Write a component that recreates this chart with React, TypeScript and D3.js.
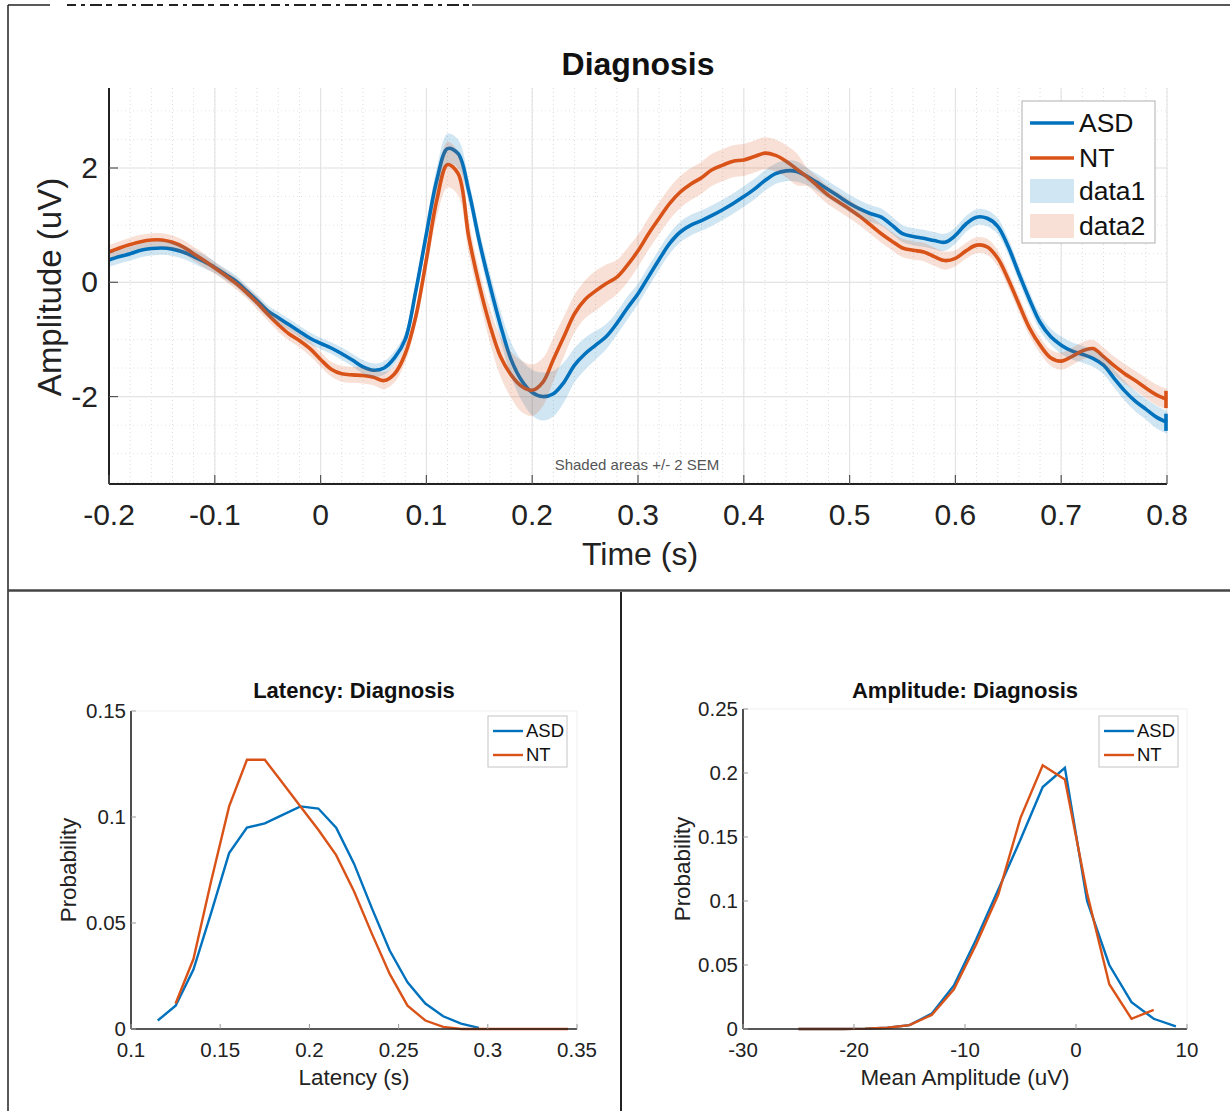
import React, { useEffect, useRef } from 'react';
import * as d3 from 'd3';

// ERP time grid, seconds (-0.2 .. 0.8, 10 ms steps)
const timeSec: number[] = d3.range(0, 101).map(i => Math.round((-0.2 + i * 0.01) * 1000) / 1000);

const asdErp = [
  0.39, 0.45, 0.50, 0.56, 0.59, 0.60, 0.58, 0.53, 0.45, 0.36,
  0.26, 0.14, 0.02, -0.15, -0.32, -0.50, -0.62, -0.74, -0.86, -0.98,
  -1.07, -1.15, -1.25, -1.36, -1.48, -1.54, -1.50, -1.32, -1.00, -0.15,
  0.85, 1.80, 2.34, 2.25, 1.60, 0.72, -0.05, -0.75, -1.35, -1.72,
  -1.93, -2.00, -1.95, -1.75, -1.45, -1.25, -1.10, -0.95, -0.72, -0.45,
  -0.20, 0.10, 0.40, 0.68, 0.88, 1.00, 1.08, 1.17, 1.27, 1.38,
  1.50, 1.63, 1.78, 1.90, 1.95, 1.94, 1.85, 1.74, 1.62, 1.50,
  1.38, 1.28, 1.20, 1.14, 1.00, 0.85, 0.80, 0.77, 0.73, 0.70,
  0.82, 1.02, 1.14, 1.12, 0.98, 0.62, 0.15, -0.30, -0.70, -0.95,
  -1.10, -1.20, -1.26, -1.33, -1.45, -1.68, -1.90, -2.08, -2.22, -2.36,
  -2.45,
];

const ntErp = [
  0.53, 0.60, 0.66, 0.71, 0.74, 0.74, 0.70, 0.62, 0.50, 0.38,
  0.25, 0.12, -0.02, -0.18, -0.36, -0.56, -0.74, -0.90, -1.02, -1.16,
  -1.35, -1.52, -1.60, -1.62, -1.63, -1.66, -1.72, -1.60, -1.25, -0.60,
  0.40, 1.45, 2.06, 1.90, 0.80, -0.05, -0.75, -1.30, -1.62, -1.82,
  -1.89, -1.75, -1.35, -0.95, -0.55, -0.30, -0.15, -0.02, 0.09, 0.30,
  0.55, 0.85, 1.12, 1.38, 1.58, 1.72, 1.83, 1.97, 2.05, 2.12,
  2.14, 2.20, 2.26, 2.22, 2.12, 1.98, 1.84, 1.68, 1.52, 1.40,
  1.28, 1.15, 1.00, 0.85, 0.72, 0.60, 0.56, 0.53, 0.45, 0.38,
  0.42, 0.55, 0.65, 0.62, 0.42, 0.05, -0.38, -0.80, -1.10, -1.32,
  -1.38, -1.30, -1.20, -1.16, -1.30, -1.46, -1.60, -1.72, -1.85, -1.97,
  -2.05,
];

// +/- 2 SEM half widths
const asdSem = [
  0.12, 0.12, 0.12, 0.12, 0.12, 0.12, 0.12, 0.12, 0.12, 0.12,
  0.10, 0.10, 0.10, 0.10, 0.10, 0.10, 0.10, 0.10, 0.10, 0.10,
  0.10, 0.10, 0.11, 0.11, 0.12, 0.12, 0.12, 0.12, 0.12, 0.12,
  0.18, 0.22, 0.26, 0.25, 0.20, 0.20, 0.22, 0.25, 0.30, 0.35,
  0.40, 0.42, 0.40, 0.35, 0.30, 0.28, 0.25, 0.22, 0.20, 0.20,
  0.18, 0.18, 0.18, 0.18, 0.18, 0.18, 0.18, 0.18, 0.18, 0.18,
  0.18, 0.18, 0.18, 0.18, 0.18, 0.18, 0.15, 0.15, 0.15, 0.15,
  0.15, 0.15, 0.15, 0.15, 0.15, 0.15, 0.15, 0.15, 0.15, 0.15,
  0.14, 0.14, 0.14, 0.14, 0.14, 0.14, 0.14, 0.14, 0.14, 0.14,
  0.15, 0.15, 0.15, 0.15, 0.16, 0.16, 0.17, 0.18, 0.18, 0.20,
  0.20,
];

const ntSem = [
  0.12, 0.12, 0.12, 0.12, 0.12, 0.12, 0.12, 0.12, 0.12, 0.12,
  0.10, 0.10, 0.10, 0.10, 0.11, 0.11, 0.12, 0.12, 0.12, 0.13,
  0.13, 0.13, 0.14, 0.14, 0.14, 0.14, 0.15, 0.15, 0.15, 0.15,
  0.20, 0.30, 0.40, 0.38, 0.30, 0.25, 0.30, 0.35, 0.40, 0.45,
  0.45, 0.42, 0.38, 0.35, 0.33, 0.33, 0.35, 0.33, 0.30, 0.30,
  0.28, 0.28, 0.28, 0.28, 0.28, 0.28, 0.28, 0.28, 0.28, 0.28,
  0.28, 0.28, 0.28, 0.28, 0.28, 0.28, 0.16, 0.16, 0.16, 0.16,
  0.16, 0.16, 0.16, 0.16, 0.16, 0.16, 0.16, 0.16, 0.16, 0.16,
  0.14, 0.14, 0.14, 0.14, 0.14, 0.14, 0.14, 0.14, 0.14, 0.14,
  0.15, 0.15, 0.15, 0.15, 0.16, 0.16, 0.17, 0.17, 0.18, 0.18,
  0.18,
];

// end-of-epoch filter hooks at 0.8 s (min, max)
const asdEndHook = [-2.6, -2.3];
const ntEndHook = [-2.2, -1.9];

// latency histograms
const latencyBins = [
  0.115, 0.125, 0.135, 0.145, 0.155, 0.165, 0.175, 0.185, 0.195, 0.205, 0.215, 0.225,
  0.235, 0.245, 0.255, 0.265, 0.275, 0.285, 0.295, 0.305, 0.315, 0.325, 0.335, 0.345,
];
const asdLatency = [
  0.004, 0.011, 0.028, 0.055, 0.083, 0.095, 0.097, 0.101, 0.105, 0.104, 0.095, 0.078,
  0.057, 0.037, 0.022, 0.012, 0.006, 0.0025, 0.0005, null, null, null, null, null,
];
const ntLatency = [
  null, 0.012, 0.033, 0.070, 0.105, 0.127, 0.127, 0.116, 0.105, 0.094, 0.082, 0.065,
  0.045, 0.026, 0.011, 0.004, 0.001, 0, 0, 0, 0, 0, 0, 0,
];

// mean amplitude histograms
const amplitudeBins = [-25, -23, -21, -19, -17, -15, -13, -11, -9, -7, -5, -3, -1, 1, 3, 5, 7, 9];
const asdAmplitude = [
  0, 0, 0, 0.0003, 0.001, 0.003, 0.012, 0.034, 0.070, 0.109, 0.148, 0.189, 0.204, 0.100, 0.050, 0.021, 0.008, 0.002,
];
const ntAmplitude = [
  0, 0, 0, 0.0003, 0.001, 0.003, 0.011, 0.031, 0.066, 0.105, 0.165, 0.206, 0.195, 0.106, 0.035, 0.008, 0.015, null,
];

const topXTicks = [-0.2, -0.1, 0, 0.1, 0.2, 0.3, 0.4, 0.5, 0.6, 0.7, 0.8];
const topYTicks = [-2, 0, 2];
const latXTicks = [0.1, 0.15, 0.2, 0.25, 0.3, 0.35];
const latYTicks = [0, 0.05, 0.1, 0.15];
const ampXTicks = [-30, -20, -10, 0, 10];
const ampYTicks = [0, 0.05, 0.1, 0.15, 0.2, 0.25];

const BLUE = '#0072BD';
const ORANGE = '#D95319';
const FONT = '"Liberation Sans", Arial, Helvetica, sans-serif';

type Pt = { x: number; y: number | null };

const App = () => {
  const ref = useRef<SVGSVGElement>(null);

  useEffect(() => {
    const svg = d3.select(ref.current);
    svg.selectAll('*').remove();
    svg.style('font-family', FONT);

    // figure frame
    const frame = svg.append('g').attr('stroke', '#222').attr('fill', 'none');
    frame.append('line').attr('x1', 8).attr('x2', 8).attr('y1', 5).attr('y2', 1111).attr('stroke-width', 1.5);
    frame.append('line').attr('x1', 8).attr('x2', 50).attr('y1', 5).attr('y2', 5).attr('stroke-width', 1.5);
    frame.append('line').attr('x1', 67).attr('x2', 472).attr('y1', 5).attr('y2', 5)
      .attr('stroke-width', 2).attr('stroke-dasharray', '9,5,4,5,12,4,6,6');
    frame.append('line').attr('x1', 472).attr('x2', 1230).attr('y1', 5).attr('y2', 5).attr('stroke-width', 1.5);
    frame.append('line').attr('x1', 8).attr('x2', 1230).attr('y1', 590.5).attr('y2', 590.5).attr('stroke-width', 2.5).attr('stroke', '#444');
    frame.append('line').attr('x1', 621).attr('x2', 621).attr('y1', 592).attr('y2', 1111).attr('stroke-width', 2);

    // ---------- top ERP chart ----------
    const x = d3.scaleLinear().domain([-0.2, 0.8]).range([109, 1167]);
    const y = d3.scaleLinear().domain([-3.53, 3.4]).range([484, 88]);
    const top = svg.append('g');

    // minor grid
    const minorX = d3.range(-0.2, 0.8001, 0.02);
    top.append('g').selectAll('line').data(minorX).join('line')
      .attr('x1', d => x(d)).attr('x2', d => x(d)).attr('y1', 88).attr('y2', 484)
      .attr('stroke', '#dcdcdc').attr('stroke-width', 1).attr('stroke-dasharray', '1,3');
    const minorY = d3.range(-3.5, 3.4, 0.5);
    top.append('g').selectAll('line').data(minorY).join('line')
      .attr('x1', 109).attr('x2', 1167).attr('y1', d => y(d)).attr('y2', d => y(d))
      .attr('stroke', '#e2e2e2').attr('stroke-width', 1).attr('stroke-dasharray', '1,3');
    // major grid
    top.append('g').selectAll('line').data(topXTicks).join('line')
      .attr('x1', d => x(d)).attr('x2', d => x(d)).attr('y1', 88).attr('y2', 484)
      .attr('stroke', '#e4e4e4').attr('stroke-width', 1.2);
    top.append('g').selectAll('line').data(topYTicks).join('line')
      .attr('x1', 109).attr('x2', 1167).attr('y1', d => y(d)).attr('y2', d => y(d))
      .attr('stroke', '#e4e4e4').attr('stroke-width', 1.2);

    const asdPts = timeSec.map((t, i) => ({ t, v: asdErp[i], s: asdSem[i] }));
    const ntPts = timeSec.map((t, i) => ({ t, v: ntErp[i], s: ntSem[i] }));
    const erpLine = d3.line<{ t: number; v: number }>()
      .x(d => x(d.t)).y(d => y(d.v)).curve(d3.curveCatmullRom.alpha(0.5));
    const band = d3.area<{ t: number; v: number; s: number }>()
      .x(d => x(d.t)).y0(d => y(d.v - d.s)).y1(d => y(d.v + d.s)).curve(d3.curveCatmullRom.alpha(0.5));

    top.append('path').attr('d', erpLine(asdPts)).attr('fill', 'none').attr('stroke', BLUE).attr('stroke-width', 3.6);
    top.append('path').attr('d', erpLine(ntPts)).attr('fill', 'none').attr('stroke', ORANGE).attr('stroke-width', 3.6);
    // end hooks
    const tEnd = timeSec[timeSec.length - 1];
    [{ h: asdEndHook, c: BLUE }, { h: ntEndHook, c: ORANGE }].forEach(d => {
      top.append('line').attr('x1', x(tEnd) - 1).attr('x2', x(tEnd) - 1).attr('y1', y(d.h[0])).attr('y2', y(d.h[1]))
        .attr('stroke', d.c).attr('stroke-width', 3.6);
    });
    top.append('path').attr('d', band(asdPts)).attr('fill', BLUE).attr('fill-opacity', 0.18);
    top.append('path').attr('d', band(ntPts)).attr('fill', ORANGE).attr('fill-opacity', 0.18);

    // axes
    top.append('line').attr('x1', 109).attr('x2', 109).attr('y1', 88).attr('y2', 484).attr('stroke', '#222').attr('stroke-width', 2);
    top.append('line').attr('x1', 109).attr('x2', 1167).attr('y1', 484).attr('y2', 484).attr('stroke', '#222').attr('stroke-width', 2);
    top.append('g').selectAll('line').data(topXTicks).join('line')
      .attr('x1', d => x(d)).attr('x2', d => x(d)).attr('y1', 484).attr('y2', 475)
      .attr('stroke', '#555').attr('stroke-width', 1.2);
    top.append('g').selectAll('line').data(topYTicks).join('line')
      .attr('x1', 109).attr('x2', 118).attr('y1', d => y(d)).attr('y2', d => y(d))
      .attr('stroke', '#555').attr('stroke-width', 1.2);
    top.append('g').selectAll('text').data(topXTicks).join('text')
      .attr('x', d => x(d)).attr('y', 525).attr('text-anchor', 'middle')
      .attr('font-size', 30).attr('fill', '#222').text(d => String(d));
    top.append('g').selectAll('text').data(topYTicks).join('text')
      .attr('x', 98).attr('y', d => y(d) + 10).attr('text-anchor', 'end')
      .attr('font-size', 30).attr('fill', '#222').text(d => String(d));

    top.append('text').attr('x', 638).attr('y', 75).attr('text-anchor', 'middle')
      .attr('font-size', 32).attr('font-weight', 'bold').attr('fill', '#111').text('Diagnosis');
    top.append('text').attr('x', 640).attr('y', 565).attr('text-anchor', 'middle')
      .attr('font-size', 32).attr('fill', '#222').text('Time (s)');
    top.append('text').attr('transform', 'translate(61,287) rotate(-90)').attr('text-anchor', 'middle')
      .attr('font-size', 33).attr('fill', '#222').text('Amplitude (uV)');
    top.append('text').attr('x', 637).attr('y', 470).attr('text-anchor', 'middle')
      .attr('font-size', 15).attr('fill', '#555').text('Shaded areas +/- 2 SEM');

    // legend
    const lg = top.append('g');
    lg.append('rect').attr('x', 1022).attr('y', 101).attr('width', 133).attr('height', 142)
      .attr('fill', '#fff').attr('stroke', '#bdbdbd').attr('stroke-width', 1.2);
    const topLegend = [
      { label: 'ASD', kind: 'line', color: BLUE },
      { label: 'NT', kind: 'line', color: ORANGE },
      { label: 'data1', kind: 'patch', color: BLUE },
      { label: 'data2', kind: 'patch', color: ORANGE },
    ];
    const lgY = [123, 158, 191, 226];
    topLegend.forEach((d, i) => {
      if (d.kind === 'line') {
        lg.append('line').attr('x1', 1030).attr('x2', 1074).attr('y1', lgY[i]).attr('y2', lgY[i])
          .attr('stroke', d.color).attr('stroke-width', 3.5);
      } else {
        lg.append('rect').attr('x', 1030).attr('y', lgY[i] - 12).attr('width', 44).attr('height', 24)
          .attr('fill', d.color).attr('fill-opacity', 0.18);
      }
      lg.append('text').attr('x', 1079).attr('y', lgY[i] + 9).attr('font-size', 26.5).attr('fill', '#111').text(d.label);
    });

    // ---------- bottom distribution panels ----------
    const panel = (opt: {
      x0: number; x1: number; y0: number; y1: number;
      xDomain: [number, number]; yDomain: [number, number];
      xTicks: number[]; yTicks: number[];
      bins: number[]; asd: (number | null)[]; nt: (number | null)[];
      title: string; xLabel: string; yLabelX: number; legendX: number;
    }) => {
      const g = svg.append('g');
      const px = d3.scaleLinear().domain(opt.xDomain).range([opt.x0, opt.x1]);
      const py = d3.scaleLinear().domain(opt.yDomain).range([opt.y0, opt.y1]);

      g.append('rect').attr('x', opt.x0).attr('y', opt.y1).attr('width', opt.x1 - opt.x0).attr('height', opt.y0 - opt.y1)
        .attr('fill', 'none').attr('stroke', '#f0f0f0').attr('stroke-width', 1);

      const ln = d3.line<Pt>().defined(d => d.y !== null).x(d => px(d.x)).y(d => py(d.y as number));
      const asdP = opt.bins.map((b, i) => ({ x: b, y: opt.asd[i] }));
      const ntP = opt.bins.map((b, i) => ({ x: b, y: opt.nt[i] }));
      g.append('path').attr('d', ln(asdP)).attr('fill', 'none').attr('stroke', BLUE).attr('stroke-width', 2.4);
      g.append('path').attr('d', ln(ntP)).attr('fill', 'none').attr('stroke', ORANGE).attr('stroke-width', 2.4);

      g.append('line').attr('x1', opt.x0).attr('x2', opt.x0).attr('y1', opt.y1).attr('y2', opt.y0).attr('stroke', '#222').attr('stroke-width', 1.6);
      g.append('line').attr('x1', opt.x0).attr('x2', opt.x1).attr('y1', opt.y0).attr('y2', opt.y0).attr('stroke', '#222').attr('stroke-width', 1.6);
      g.append('g').selectAll('line').data(opt.xTicks).join('line')
        .attr('x1', d => px(d)).attr('x2', d => px(d)).attr('y1', opt.y0).attr('y2', opt.y0 - 5)
        .attr('stroke', '#999').attr('stroke-width', 1);
      g.append('g').selectAll('line').data(opt.yTicks).join('line')
        .attr('x1', opt.x0).attr('x2', opt.x0 + 5).attr('y1', d => py(d)).attr('y2', d => py(d))
        .attr('stroke', '#999').attr('stroke-width', 1);
      g.append('g').selectAll('text').data(opt.xTicks).join('text')
        .attr('x', d => px(d)).attr('y', opt.y0 + 28).attr('text-anchor', 'middle')
        .attr('font-size', 20.5).attr('fill', '#222').text(d => String(d));
      g.append('g').selectAll('text').data(opt.yTicks).join('text')
        .attr('x', opt.x0 - 5).attr('y', d => py(d) + 7).attr('text-anchor', 'end')
        .attr('font-size', 20.5).attr('fill', '#222').text(d => String(d));

      const cx = (opt.x0 + opt.x1) / 2;
      g.append('text').attr('x', cx).attr('y', 698).attr('text-anchor', 'middle')
        .attr('font-size', 22).attr('font-weight', 'bold').attr('fill', '#111').text(opt.title);
      g.append('text').attr('x', cx).attr('y', 1085).attr('text-anchor', 'middle')
        .attr('font-size', 22.4).attr('fill', '#222').text(opt.xLabel);
      g.append('text').attr('transform', `translate(${opt.yLabelX},${(opt.y0 + opt.y1) / 2}) rotate(-90)`)
        .attr('text-anchor', 'middle').attr('font-size', 22.4).attr('fill', '#222').text('Probability');

      const lx = opt.legendX;
      g.append('rect').attr('x', lx).attr('y', 716).attr('width', 79).attr('height', 51)
        .attr('fill', '#fff').attr('stroke', '#c4c4c4').attr('stroke-width', 1);
      [{ label: 'ASD', color: BLUE, yy: 731 }, { label: 'NT', color: ORANGE, yy: 755 }].forEach(d => {
        g.append('line').attr('x1', lx + 5).attr('x2', lx + 35).attr('y1', d.yy).attr('y2', d.yy)
          .attr('stroke', d.color).attr('stroke-width', 2.4);
        g.append('text').attr('x', lx + 38).attr('y', d.yy + 6).attr('font-size', 18.5).attr('fill', '#111').text(d.label);
      });
    };

    panel({
      x0: 131, x1: 577, y0: 1029, y1: 711,
      xDomain: [0.1, 0.35], yDomain: [0, 0.15],
      xTicks: latXTicks, yTicks: latYTicks,
      bins: latencyBins, asd: asdLatency, nt: ntLatency,
      title: 'Latency: Diagnosis', xLabel: 'Latency (s)', yLabelX: 76, legendX: 488,
    });
    panel({
      x0: 743, x1: 1187, y0: 1029, y1: 709,
      xDomain: [-30, 10], yDomain: [0, 0.25],
      xTicks: ampXTicks, yTicks: ampYTicks,
      bins: amplitudeBins, asd: asdAmplitude, nt: ntAmplitude,
      title: 'Amplitude: Diagnosis', xLabel: 'Mean Amplitude (uV)', yLabelX: 690, legendX: 1099,
    });
  }, []);

  return (
    <svg ref={ref} width={1230} height={1111} style={{ position: 'absolute', left: 0, top: 0, background: '#fff' }} />
  );
};

export default App;
